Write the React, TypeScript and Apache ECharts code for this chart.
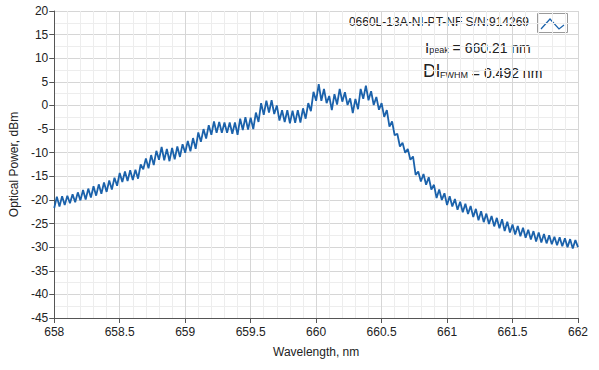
import React, { useEffect, useRef } from "react";
import * as echarts from "echarts";

// Wavelength sampling of the trace (nm)
const WL_START = 658;
const WL_STEP = 0.02;

// Optical power readings (dBm), one per wavelength sample
const power: number[] = [
  -21.7, -19.3, -21.4, -19.2, -21.1, -19.1, -20.7, -18.8, -20.5, -18.4,
  -20.1, -17.9, -19.9, -17.6, -19.5, -17.1, -19.1, -16.7, -18.7, -16.3,
  -18.3, -15.9, -17.8, -15.3, -17.0, -14.3, -16.2, -14.0, -16.0, -13.7,
  -15.8, -13.6, -15.5, -12.5, -13.5, -11.2, -13.3, -10.5, -12.6, -9.6,
  -11.5, -8.8, -11.6, -9.2, -11.8, -9.0, -11.4, -8.7, -10.9, -8.2,
  -10.0, -7.5, -9.7, -6.9, -9.2, -5.7, -7.7, -5.0, -7.0, -4.2,
  -6.2, -3.4, -5.8, -3.5, -5.8, -3.6, -5.8, -3.6, -6.0, -3.6,
  -6.2, -2.8, -5.2, -2.5, -5.1, -2.6, -5.0, -1.5, -3.5, 0.5,
  -2.0, 1.0, -1.5, 1.1, -1.8, 0.0, -3.2, -1.0, -3.5, -1.0,
  -3.8, -1.1, -3.7, -1.0, -3.6, -0.6, -2.8, 0.5, -1.2, 2.9,
  1.0, 4.5, 1.0, 3.5, 0.5, 2.0, -1.0, 2.4, 0.2, 3.5,
  0.8, 2.8, 0.1, 1.5, -1.6, 1.4, -0.8, 3.5, 1.4, 4.2,
  1.1, 3.0, 0.1, 1.8, -0.9, 0.5, -2.4, -1.0, -4.5, -3.4,
  -6.3, -6.0, -8.7, -7.9, -10.0, -9.2, -11.5, -10.8, -14.7, -14.0,
  -16.1, -14.5, -16.8, -15.2, -17.8, -16.8, -19.6, -17.8, -20.0, -18.6,
  -21.1, -19.2, -21.4, -19.8, -22.1, -20.4, -22.6, -20.8, -23.0, -21.3,
  -23.6, -21.9, -24.3, -22.4, -24.7, -22.9, -25.1, -23.4, -25.6, -23.8,
  -26.0, -24.1, -26.6, -24.6, -26.9, -25.2, -27.3, -25.5, -27.7, -25.9,
  -28.0, -26.3, -28.4, -26.6, -28.8, -26.9, -29.0, -27.2, -29.2, -27.5,
  -29.4, -27.8, -29.6, -27.9, -29.8, -28.1, -30.0, -28.3, -30.3, -28.5,
  -30.0,
];

const X_MIN = 658;
const X_MAX = 662;
const X_INTERVAL = 0.5;
const Y_MIN = -45;
const Y_MAX = 20;
const Y_INTERVAL = 5;

const SERIES_NAME = "0660L-13A-NI-PT-NF S/N:914269";
const PEAK_LABEL = ["I", "peak", " = 660.21 nm"];
const FWHM_LABEL = ["Dl", "FWHM", " = 0.492 nm"];
const X_NAME = "Wavelength, nm";
const Y_NAME = "Optical Power, dBm";

const FONT = "Liberation Sans, Arial, sans-serif";
const LINE_COLOR = "#1b62ab";

export default function App() {
  const ref = useRef<HTMLDivElement>(null);

  useEffect(() => {
    if (!ref.current) return;
    const chart = echarts.init(ref.current, null, { renderer: "svg" });
    const data = power.map((p, i) => [WL_START + WL_STEP * i, p]);

    chart.setOption({
      animation: false,
      backgroundColor: "#ffffff",
      textStyle: { fontFamily: FONT },
      grid: { left: 54, right: 21, top: 11, bottom: 52, containLabel: false },
      xAxis: {
        type: "value",
        min: X_MIN,
        max: X_MAX,
        interval: X_INTERVAL,
        name: X_NAME,
        nameLocation: "middle",
        nameGap: 28,
        nameTextStyle: { color: "#222", fontSize: 12, fontFamily: FONT },
        axisLine: { show: true, onZero: false, lineStyle: { color: "#555", width: 1 } },
        axisTick: { show: true, length: 5, inside: false, lineStyle: { color: "#555" } },
        axisLabel: { color: "#222", fontSize: 12, margin: 8, fontFamily: FONT },
        splitLine: { show: true, lineStyle: { color: "#d6d6d6", width: 1 } },
        minorTick: { show: false, splitNumber: 5 },
        minorSplitLine: { show: true, lineStyle: { color: "#ededed", width: 1 } },
      },
      yAxis: {
        type: "value",
        min: Y_MIN,
        max: Y_MAX,
        interval: Y_INTERVAL,
        name: Y_NAME,
        nameLocation: "middle",
        nameGap: 30,
        nameRotate: 90,
        nameTextStyle: { color: "#222", fontSize: 12, fontFamily: FONT },
        axisLine: { show: true, onZero: false, lineStyle: { color: "#555", width: 1 } },
        axisTick: { show: true, length: 5, inside: false, lineStyle: { color: "#555" } },
        axisLabel: { color: "#222", fontSize: 12, margin: 6, fontFamily: FONT },
        splitLine: { show: true, lineStyle: { color: "#d6d6d6", width: 1 } },
        minorTick: { show: false, splitNumber: 2 },
        minorSplitLine: { show: true, lineStyle: { color: "#ededed", width: 1 } },
      },
      series: [
        {
          name: SERIES_NAME,
          type: "line",
          data,
          showSymbol: false,
          symbol: "none",
          lineStyle: { color: LINE_COLOR, width: 1.8 },
          smooth: false,
        },
      ],
      graphic: [
        {
          type: "text",
          right: 70,
          top: 16,
          style: { text: SERIES_NAME, font: `12px ${FONT}`, fill: "#222" },
        },
        {
          type: "rect",
          shape: { x: 537.5, y: 13.5, width: 30, height: 19 },
          style: { fill: "#fff", stroke: "#9a9a9a", lineWidth: 1 },
        },
        {
          type: "polyline",
          shape: { points: [[541, 29], [550, 19], [559, 29], [564, 25]] },
          style: { stroke: LINE_COLOR, lineWidth: 1.2, fill: null },
        },
        {
          type: "text",
          x: 425,
          y: 40,
          style: {
            text: `{a|${PEAK_LABEL[0]}}{s|${PEAK_LABEL[1]}}{b|${PEAK_LABEL[2]}}`,
            rich: {
              a: { fontSize: 15, fontFamily: FONT, fill: "#222", verticalAlign: "bottom" },
              s: { fontSize: 9, fontFamily: FONT, fill: "#222", verticalAlign: "bottom", padding: [0, 0, 1, 0] },
              b: { fontSize: 14, fontFamily: FONT, fill: "#222", verticalAlign: "bottom" },
            },
          },
        },
        {
          type: "text",
          x: 423,
          y: 62,
          style: {
            text: `{a|${FWHM_LABEL[0]}}{s|${FWHM_LABEL[1]}}{b|${FWHM_LABEL[2]}}`,
            rich: {
              a: { fontSize: 18, fontFamily: FONT, fill: "#222", verticalAlign: "bottom" },
              s: { fontSize: 9, fontFamily: FONT, fill: "#222", verticalAlign: "bottom", padding: [0, 0, 1, 0] },
              b: { fontSize: 14, fontFamily: FONT, fill: "#222", verticalAlign: "bottom" },
            },
          },
        },
      ],
    });

    return () => chart.dispose();
  }, []);

  return (
    <div
      ref={ref}
      style={{ width: 599, height: 370, position: "absolute", left: 0, top: 0 }}
    />
  );
}
